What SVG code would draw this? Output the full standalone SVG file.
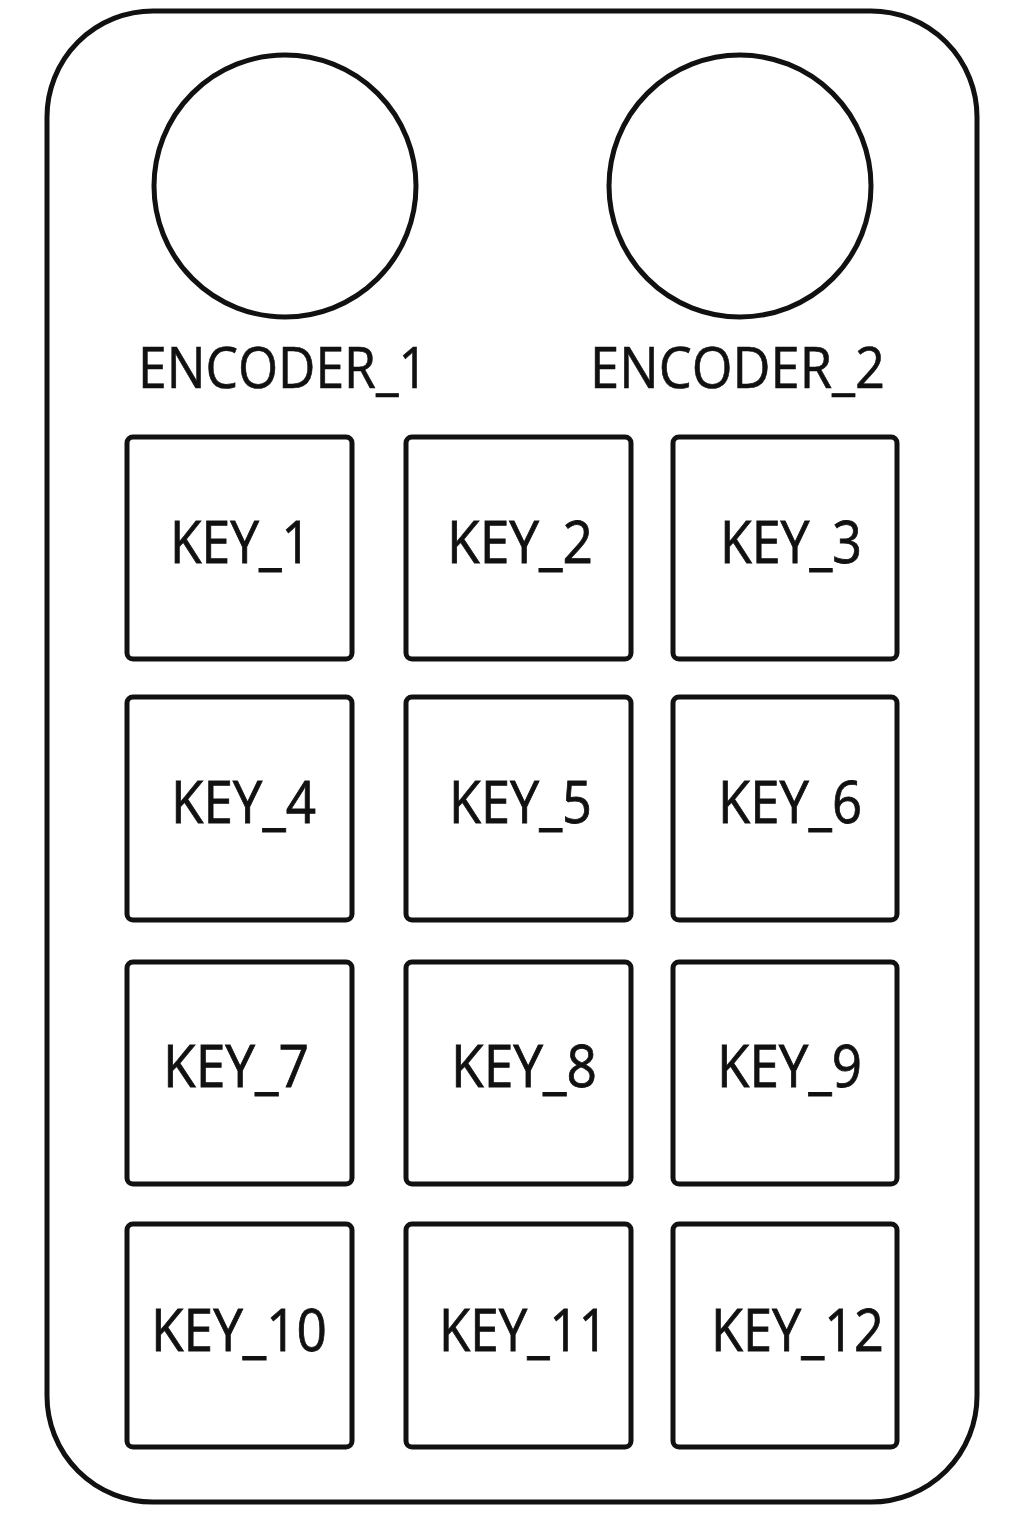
<svg xmlns="http://www.w3.org/2000/svg" width="1024" height="1536" viewBox="0 0 1024 1536">
<style>
.body{fill:#fff;stroke:#111;stroke-width:5}
.enc{fill:none;stroke:#111;stroke-width:5}
.key{fill:#fff;stroke:#111;stroke-width:5}
.lbl{font-family:"Open Sans","Liberation Sans",sans-serif;font-size:58px;fill:#111;stroke:#111;stroke-width:0.8}
.elbl{font-family:"Open Sans","Liberation Sans",sans-serif;font-size:56px;fill:#111;stroke:#111;stroke-width:0.6}
</style>
<rect width="1024" height="1536" fill="#fff"/>
<g id="body"><rect class="body" x="47" y="11" width="930" height="1491" rx="106" ry="106"/></g>
<g id="encoder_1"><circle class="enc" cx="285" cy="186" r="131"/><text class="elbl" x="138" y="388" textLength="290" lengthAdjust="spacingAndGlyphs">ENCODER_1</text></g>
<g id="encoder_2"><circle class="enc" cx="740" cy="186" r="131"/><text class="elbl" x="590" y="388" textLength="295" lengthAdjust="spacingAndGlyphs">ENCODER_2</text></g>
<g id="key_1"><rect class="key" x="127" y="437" width="225" height="222" rx="6"/><text class="lbl" x="170" y="563" textLength="141" lengthAdjust="spacingAndGlyphs">KEY_1</text></g>
<g id="key_2"><rect class="key" x="406" y="437" width="225" height="222" rx="6"/><text class="lbl" x="447" y="563" textLength="146" lengthAdjust="spacingAndGlyphs">KEY_2</text></g>
<g id="key_3"><rect class="key" x="673" y="437" width="224" height="222" rx="6"/><text class="lbl" x="720" y="563" textLength="142" lengthAdjust="spacingAndGlyphs">KEY_3</text></g>
<g id="key_4"><rect class="key" x="127" y="697" width="225" height="223" rx="6"/><text class="lbl" x="171" y="823" textLength="145" lengthAdjust="spacingAndGlyphs">KEY_4</text></g>
<g id="key_5"><rect class="key" x="406" y="697" width="225" height="223" rx="6"/><text class="lbl" x="449" y="823" textLength="143" lengthAdjust="spacingAndGlyphs">KEY_5</text></g>
<g id="key_6"><rect class="key" x="673" y="697" width="224" height="223" rx="6"/><text class="lbl" x="718" y="823" textLength="144" lengthAdjust="spacingAndGlyphs">KEY_6</text></g>
<g id="key_7"><rect class="key" x="127" y="962" width="225" height="222" rx="6"/><text class="lbl" x="163" y="1087" textLength="146" lengthAdjust="spacingAndGlyphs">KEY_7</text></g>
<g id="key_8"><rect class="key" x="406" y="962" width="225" height="222" rx="6"/><text class="lbl" x="451" y="1087" textLength="146" lengthAdjust="spacingAndGlyphs">KEY_8</text></g>
<g id="key_9"><rect class="key" x="673" y="962" width="224" height="222" rx="6"/><text class="lbl" x="717" y="1087" textLength="145" lengthAdjust="spacingAndGlyphs">KEY_9</text></g>
<g id="key_10"><rect class="key" x="127" y="1224" width="225" height="223" rx="6"/><text class="lbl" x="151" y="1351" textLength="176" lengthAdjust="spacingAndGlyphs">KEY_10</text></g>
<g id="key_11"><rect class="key" x="406" y="1224" width="225" height="223" rx="6"/><text class="lbl" x="439" y="1351" textLength="169" lengthAdjust="spacingAndGlyphs">KEY_11</text></g>
<g id="key_12"><rect class="key" x="673" y="1224" width="224" height="223" rx="6"/><text class="lbl" x="711" y="1351" textLength="173" lengthAdjust="spacingAndGlyphs">KEY_12</text></g>
<g id="connectors"></g>
</svg>
